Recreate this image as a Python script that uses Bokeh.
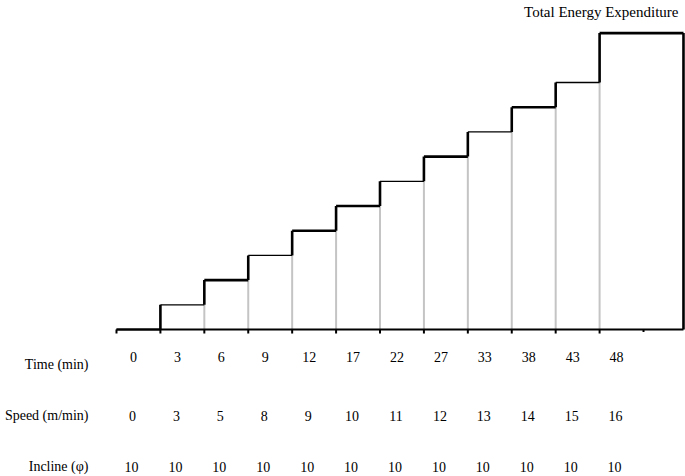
from bokeh.plotting import figure
from bokeh.models import Range1d, ColumnDataSource
from bokeh.embed import file_html
from bokeh.resources import INLINE
from bokeh.core.properties import value

# ---- data ----
stages = list(range(12))
time_min = ["0", "3", "6", "9", "12", "17", "22", "27", "33", "38", "43", "48"]
speed = ["0", "3", "5", "8", "9", "10", "11", "12", "13", "14", "15", "16"]
incline = ["10"] * 12
energy = [0, 1, 2, 3, 4, 5, 6, 7, 8, 9, 10, 12]   # relative energy level per stage
row_labels = ["Time (min)", "Speed (m/min)", "Incline (\u03c6)"]
title_text = "Total Energy Expenditure"
last_stage_end = 12.91

# ---- styles (not data) ----
FONT = value("Liberation Serif")
UNIT_PX = 24.7
tread_widths = [2, 1.3, 2.6, 1.3, 2.6, 2.6, 1.3, 2.6, 1.3, 2.6, 1.3, 2.6]

p = figure(width=685, height=476, output_backend="svg", toolbar_location=None,
           x_range=Range1d(-2.641, 12.956), y_range=Range1d(-5.95, 13.32),
           min_border=0, outline_line_color=None)
p.axis.visible = False
p.xgrid.visible = False
p.ygrid.visible = False
p.background_fill_color = "white"
p.border_fill_color = "white"

# gray verticals under each step
gx, gy0, gy1 = [], [], []
for i in stages[2:]:
    gx.append(i)
    gy0.append(0)
    gy1.append(energy[i - 1])
p.segment(x0=gx, y0=gy0, x1=gx, y1=gy1, line_color="#c4c4c4", line_width=2)

# baseline
p.line([0, last_stage_end], [0, 0], line_color="black", line_width=2)

# treads (horizontal parts of the staircase)
hx0, hx1, hy = [], [], []
for i, e in zip(stages, energy):
    nxt = i + 1 if i < len(stages) - 1 else last_stage_end
    hx0.append(i)
    hx1.append(nxt)
    hy.append(e)
tsrc = ColumnDataSource(dict(x0=hx0, x1=hx1, y=hy, w=tread_widths))
p.segment(x0="x0", y0="y", x1="x1", y1="y", line_width="w", line_color="black", source=tsrc)

# risers
rx, ry0, ry1 = [], [], []
for i in stages[1:]:
    rx.append(i)
    ry0.append(energy[i - 1])
    ry1.append(energy[i])
rx.append(last_stage_end)
ry0.append(0)
ry1.append(energy[-1])
p.segment(x0=rx, y0=ry0, x1=rx, y1=ry1, line_color="black", line_width=2.6)

# ticks
tx = list(range(13))
tl = [-4 / UNIT_PX] * 12 + [-2.5 / UNIT_PX]
p.segment(x0=tx, y0=[0] * 13, x1=tx, y1=tl, line_color="black", line_width=2)

# value rows
src = ColumnDataSource(dict(x=stages, t=time_min, s=speed, inc=incline))
common = dict(text_font=FONT, text_font_size="14px", text_align="center",
              text_baseline="middle", text_color="black")
p.text(x="x", y=0, text="t", source=src, x_offset=17, y_offset=27, **common)
p.text(x="x", y=0, text="s", source=src, x_offset=16, y_offset=86, **common)
p.text(x="x", y=0, text="inc", source=src, x_offset=15, y_offset=137, **common)

# row labels
for lab, off in zip(row_labels, [35, 86, 137]):
    p.text(x=[0], y=[0], text=[lab], x_offset=-28, y_offset=off,
           text_font=FONT, text_font_size="14px", text_align="right",
           text_baseline="middle", text_color="black")

# title
p.text(x=[last_stage_end], y=[energy[-1]], text=[title_text], x_offset=-5, y_offset=-21,
       text_font=FONT, text_font_size="15px", text_align="right",
       text_baseline="alphabetic", text_color="black")

open("out.html", "w").write(file_html(p, INLINE))
